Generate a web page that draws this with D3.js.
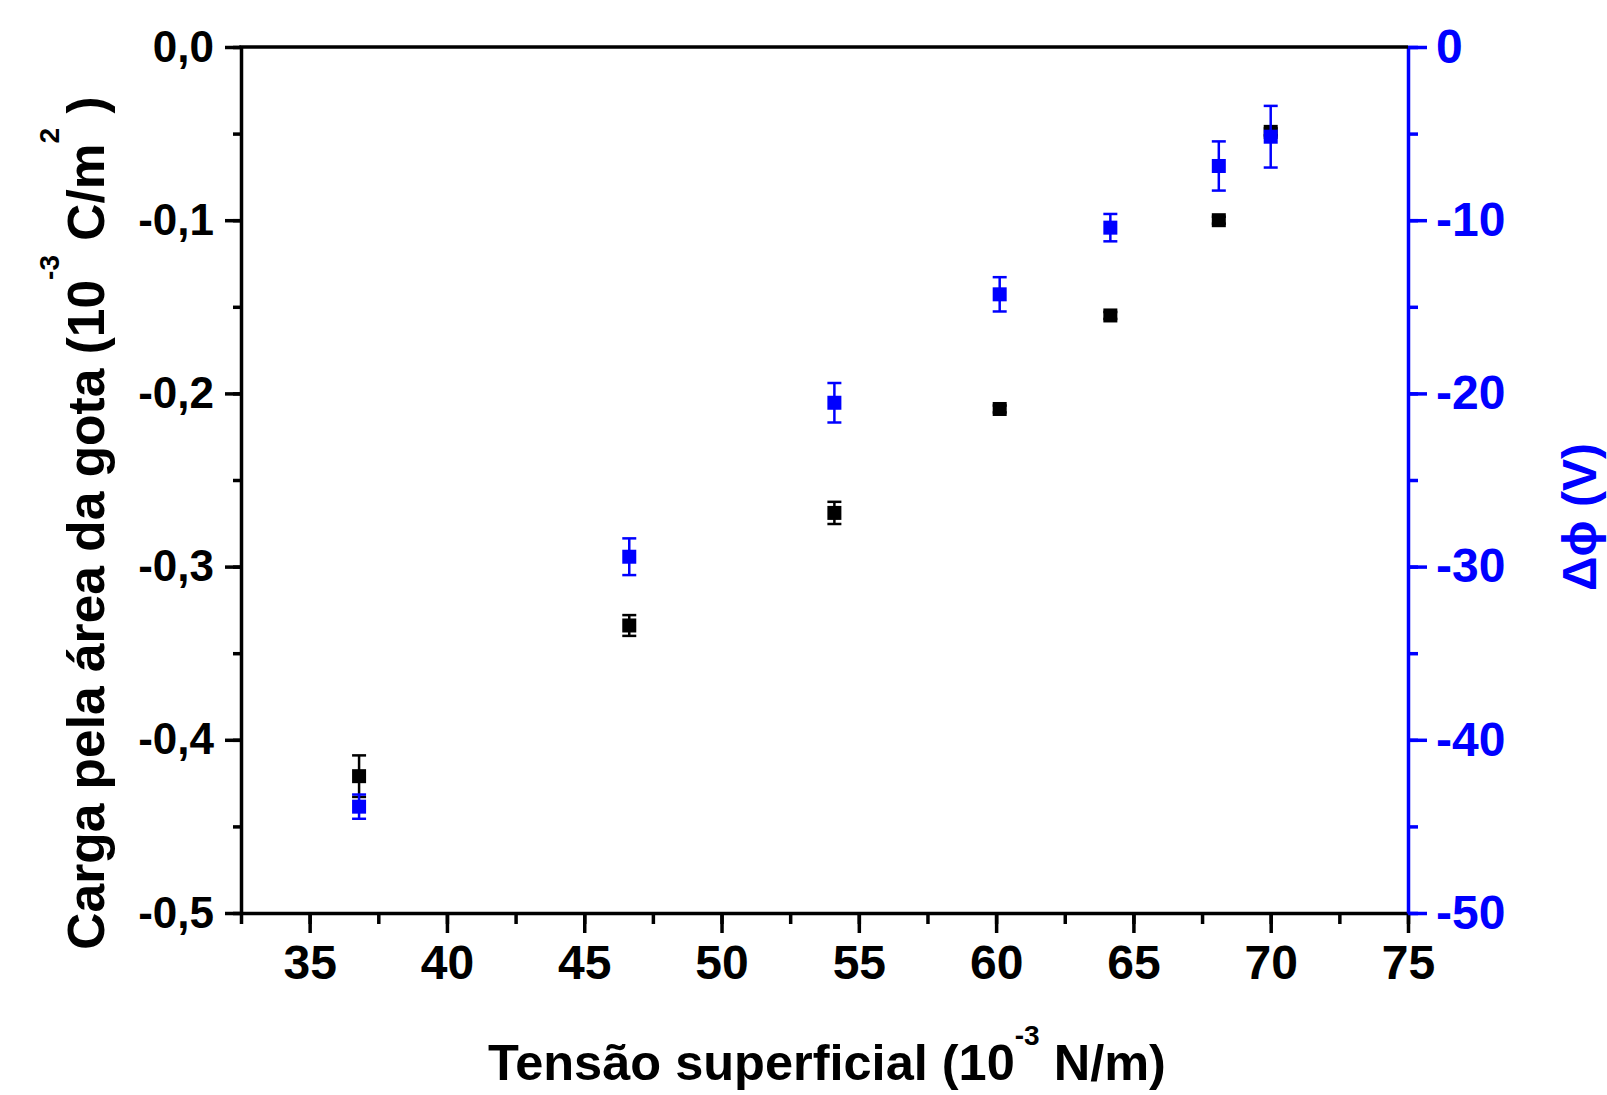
<!DOCTYPE html>
<html>
<head>
<meta charset="utf-8">
<script src="https://cdn.jsdelivr.net/npm/d3@7"></script>
<style>
  body { margin: 0; background: #fff; }
  svg { display: block; font-family: "Liberation Sans", Arial, sans-serif; font-weight: bold; }
</style>
</head>
<body>
<svg id="chart" width="1607" height="1095"></svg>
<script>
// data
var tension = [36.8, 46.64, 54.11, 60.13, 64.16, 68.11, 70.0];
var carga = [-0.421, -0.334, -0.269, -0.209, -0.155, -0.100, -0.049];
var cargaErr = [0.012, 0.006, 0.0064, 0.002, 0.002, 0.002, 0.002];
var potencial = [-43.86, -29.43, -20.54, -14.28, -10.43, -6.87, -5.18];
var potencialErr = [0.7, 1.06, 1.14, 0.99, 0.79, 1.42, 1.78];

var xTicks = [35, 40, 45, 50, 55, 60, 65, 70, 75];
var yTicks = [0, -0.1, -0.2, -0.3, -0.4, -0.5];
var y2Ticks = [0, -10, -20, -30, -40, -50];

var blue = "#0000ff";
var plotL = 241, plotR = 1408, plotT = 47, plotB = 913;

var svg = d3.select("#chart");

var x = d3.scaleLinear().domain([32.5, 75]).range([plotL, plotR]);
var y = d3.scaleLinear().domain([-0.5, 0]).range([plotB, plotT]);
var y2 = d3.scaleLinear().domain([-50, 0]).range([plotB, plotT]);

var loc = d3.formatLocale({decimal: ",", thousands: ".", grouping: [3], currency: ["", ""], minus: "-"});
var fmt1 = loc.format(".1f");
var fmt0 = loc.format("d");

function steps(a, b, s) {
    var out = [];
    for (var v = a; v <= b + 1e-9; v += s) out.push(+v.toFixed(4));
    return out;
}

//minor ticks
svg.append("g")
    .attr("transform", "translate(0," + plotB + ")")
    .call(d3.axisBottom(x).tickValues(steps(32.5, 75, 2.5)).tickSize(11).tickFormat("").tickSizeOuter(0))
    .call(function(g) { g.select(".domain").remove(); g.selectAll("line").attr("stroke", "#000").attr("stroke-width", 3.5); });
svg.append("g")
    .attr("transform", "translate(" + plotL + ",0)")
    .call(d3.axisLeft(y).tickValues(steps(-0.5, 0, 0.05)).tickSize(8).tickFormat("").tickSizeOuter(0))
    .call(function(g) { g.select(".domain").remove(); g.selectAll("line").attr("stroke", "#000").attr("stroke-width", 3.5); });
svg.append("g")
    .attr("transform", "translate(" + plotR + ",0)")
    .call(d3.axisRight(y2).tickValues(steps(-50, 0, 5)).tickSize(10).tickFormat("").tickSizeOuter(0))
    .call(function(g) { g.select(".domain").remove(); g.selectAll("line").attr("stroke", blue).attr("stroke-width", 3.5); });

//major axes
var xAxis = svg.append("g")
    .attr("transform", "translate(0," + plotB + ")")
    .call(d3.axisBottom(x).tickValues(xTicks).tickSize(20).tickPadding(12).tickSizeOuter(0));
xAxis.selectAll("text").style("font-size", "48px").attr("fill", "#000");

var yAxis = svg.append("g")
    .attr("transform", "translate(" + plotL + ",0)")
    .call(d3.axisLeft(y).tickValues(yTicks).tickSize(16).tickPadding(11).tickFormat(fmt1).tickSizeOuter(0));
yAxis.selectAll("text").style("font-size", "44px").attr("fill", "#000");

var y2Axis = svg.append("g")
    .attr("transform", "translate(" + plotR + ",0)")
    .call(d3.axisRight(y2).tickValues(y2Ticks).tickSize(19).tickPadding(9).tickFormat(fmt0).tickSizeOuter(0));
y2Axis.selectAll("text").style("font-size", "48px").attr("fill", blue);

[xAxis, yAxis].forEach(function(g) {
    g.selectAll("line").attr("stroke", "#000").attr("stroke-width", 3.5);
    g.select(".domain").attr("stroke", "#000").attr("stroke-width", 3.5);
});
y2Axis.selectAll("line").attr("stroke", blue).attr("stroke-width", 3.5);
y2Axis.select(".domain").attr("stroke", blue).attr("stroke-width", 3.5);

//top frame line
svg.append("line")
    .attr("x1", plotL - 1.75).attr("x2", plotR)
    .attr("y1", plotT).attr("y2", plotT)
    .attr("stroke", "#000").attr("stroke-width", 3.5);

//series with error bars
function drawSeries(vals, errs, scale, color) {
    var g = svg.append("g");
    var capW = 14, sz = 14;
    tension.forEach(function(t, i) {
        var cx = x(t), cy = scale(vals[i]);
        var yHi = scale(vals[i] + errs[i]), yLo = scale(vals[i] - errs[i]);
        g.append("line").attr("x1", cx).attr("x2", cx).attr("y1", yHi).attr("y2", yLo)
            .attr("stroke", color).attr("stroke-width", 2.5);
        [yHi, yLo].forEach(function(yy) {
            g.append("line").attr("x1", cx - capW / 2).attr("x2", cx + capW / 2)
                .attr("y1", yy).attr("y2", yy)
                .attr("stroke", color).attr("stroke-width", 2.5);
        });
        g.append("rect").attr("x", cx - sz / 2).attr("y", cy - sz / 2)
            .attr("width", sz).attr("height", sz).attr("fill", color);
    });
}
drawSeries(carga, cargaErr, y, "#000");
drawSeries(potencial, potencialErr, y2, blue);

//axis titles
var xt = svg.append("text")
    .attr("x", 827).attr("y", 1080)
    .attr("text-anchor", "middle")
    .style("font-size", "50.5px");
xt.append("tspan").text("Tensão superficial (10");
xt.append("tspan").attr("dy", -35).style("font-size", "28px").text("-3");
xt.append("tspan").attr("dy", 35).text(" N/m)");

var yt = svg.append("text")
    .attr("transform", "translate(104,523) rotate(-90)")
    .attr("text-anchor", "middle")
    .style("font-size", "51.5px");
yt.append("tspan").text("Carga pela área da gota (10");
yt.append("tspan").attr("dy", -45).style("font-size", "28px").text("-3");
yt.append("tspan").attr("dy", 45).text(" C/m");
yt.append("tspan").attr("dy", -45).style("font-size", "28px").text("2");
yt.append("tspan").attr("dy", 45).text(" )");

svg.append("text")
    .attr("transform", "translate(1596,517) rotate(-90)")
    .attr("text-anchor", "middle")
    .attr("fill", blue)
    .style("font-size", "48px")
    .text("Δϕ (V)");
</script>
</body>
</html>
